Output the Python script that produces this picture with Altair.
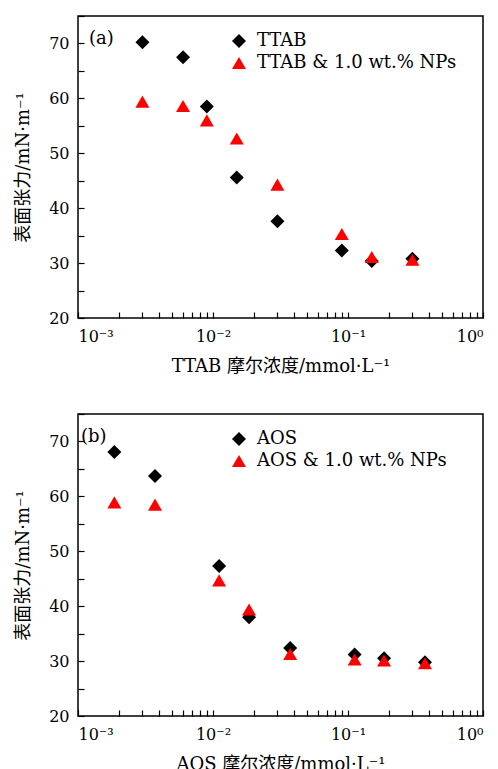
import altair as alt
import pandas as pd

# ---- data ----
ttab_names = ["TTAB", "TTAB & 1.0 wt.% NPs"]
ttab_conc = [0.003, 0.006, 0.009, 0.015, 0.03, 0.09, 0.15, 0.3]
ttab_pure = [70.2, 67.5, 58.5, 45.6, 37.6, 32.3, 30.4, 30.8]
ttab_nps = [59.4, 58.6, 56.0, 52.7, 44.3, 35.3, 31.1, 30.6]

aos_names = ["AOS", "AOS & 1.0 wt.% NPs"]
aos_conc = [0.00186, 0.00372, 0.0111, 0.0185, 0.0373, 0.112, 0.185, 0.372]
aos_pure = [68.1, 63.7, 47.3, 38.0, 32.4, 31.2, 30.5, 29.8]
aos_nps = [58.9, 58.5, 44.7, 39.4, 31.3, 30.3, 30.1, 29.6]

x_ticks = [m * 10 ** e for e in (-3, -2, -1) for m in range(1, 10)] + [1]
y_ticks = [20, 25, 30, 35, 40, 45, 50, 55, 60, 65, 70, 75]
x_label_expr = ("abs(datum.value-0.001)<1e-9 ? '10⁻³' : abs(datum.value-0.01)<1e-9 ? '10⁻²' : "
                "abs(datum.value-0.1)<1e-9 ? '10⁻¹' : abs(datum.value-1)<1e-9 ? '10⁰' : ''")
y_label_expr = "datum.value % 10 == 0 ? datum.label : ''"
y_title = "表面张力/mN·m⁻¹"

SERIF = "DejaVu Serif, Noto Sans CJK SC"


def make_df(names, conc, pure, nps):
    return pd.DataFrame({
        "c": conc + conc,
        "v": pure + nps,
        "s": [names[0]] * len(conc) + [names[1]] * len(conc),
    })


def panel(names, conc, pure, nps, tag, xtitle, tag_x):
    df = make_df(names, conc, pure, nps)
    leg = alt.Legend(orient="none", legendX=152, legendY=16, title=None,
                     labelFont=SERIF, labelFontSize=18, labelColor="black", labelLimit=0,
                     symbolSize=196, symbolOpacity=1, symbolStrokeWidth=0,
                     labelOffset=9, rowPadding=4, padding=0)
    pts = alt.Chart(df).mark_point(filled=True, size=196, opacity=1, strokeWidth=0).encode(
        x=alt.X("c:Q",
                scale=alt.Scale(type="log", domain=[0.001, 1], nice=False),
                axis=alt.Axis(values=x_ticks, labelExpr=x_label_expr, title=xtitle)),
        y=alt.Y("v:Q",
                scale=alt.Scale(domain=[20, 75], nice=False, zero=False),
                axis=alt.Axis(values=y_ticks, labelExpr=y_label_expr, title=y_title)),
        color=alt.Color("s:N", scale=alt.Scale(domain=names, range=["black", "red"]), legend=leg),
        shape=alt.Shape("s:N", scale=alt.Scale(domain=names, range=["diamond", "triangle-up"]), legend=leg),
    )
    txt = alt.Chart(pd.DataFrame({"t": [tag]})).mark_text(
        font=SERIF, fontSize=18, align="left", baseline="middle", color="black"
    ).encode(text="t:N", x=alt.value(tag_x), y=alt.value(23))
    return alt.layer(pts, txt).properties(width=405, height=302)


pa = panel(ttab_names, ttab_conc, ttab_pure, ttab_nps, "(a)", "TTAB 摩尔浓度/mmol·L⁻¹", 11)
pb = panel(aos_names, aos_conc, aos_pure, aos_nps, "(b)", "AOS 摩尔浓度/mmol·L⁻¹", 3)

chart = alt.vconcat(pa, pb, spacing=36).resolve_scale(
    color="independent", shape="independent"
).resolve_legend(color="independent", shape="independent").properties(
    padding={"left": 5, "top": 6, "right": 0, "bottom": 5}
).configure_view(
    stroke="black", strokeWidth=1.5
).configure_axis(
    domain=False, grid=False, ticks=True, tickColor="black", tickWidth=1.2,
    tickSize=6, offset=-6, labelFont=SERIF, labelFontSize=16, labelColor="black",
    titleFont=SERIF, titleFontSize=18, titleFontWeight="normal", titleColor="black"
).configure_axisX(
    labelPadding=10, titlePadding=13
).configure_axisY(
    labelPadding=9, titlePadding=16
)

chart.save("out.html", embed_options={"renderer": "svg", "actions": False})
